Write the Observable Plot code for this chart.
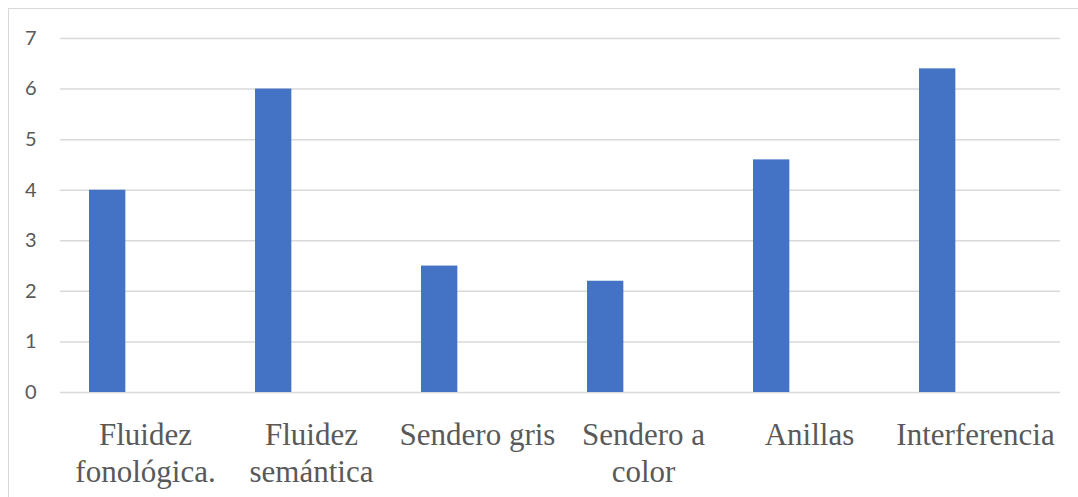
<!DOCTYPE html>
<html>
<head>
<meta charset="utf-8">
<script src="https://cdn.jsdelivr.net/npm/d3@7"></script>
<script src="https://cdn.jsdelivr.net/npm/@observablehq/plot@0.6"></script>
<style>
  html, body { margin: 0; padding: 0; background: #fff; }
  #wrap { position: relative; width: 1078px; height: 497px; overflow: hidden; }
  #frame { position: absolute; left: 8px; top: 8px; right: -10px; bottom: -10px;
           border-top: 1.5px solid #d9d9d9; border-left: 1.5px solid #d9d9d9; pointer-events: none; }
  #chart { position: absolute; left: 0; top: 0; }
</style>
</head>
<body>
<div id="wrap"><div id="chart"></div><div id="frame"></div></div>
<script>
const categories = ["Fluidez fonológica.", "Fluidez semántica", "Sendero gris", "Sendero a color", "Anillas", "Interferencia"];
const values = [4.0, 6.0, 2.5, 2.2, 4.6, 6.4];
const tickLabels = ["Fluidez\nfonológica.", "Fluidez\nsemántica", "Sendero gris", "Sendero a\ncolor", "Anillas", "Interferencia"];
const yTicks = [0, 1, 2, 3, 4, 5, 6, 7];

const data = categories.map((c, i) => ({category: c, value: values[i]}));
const labelOf = new Map(categories.map((c, i) => [c, tickLabels[i]]));

const bandWidth = (1078 - 60 - 18) / categories.length;

const chart = Plot.plot({
  width: 1078,
  height: 497,
  marginLeft: 60,
  marginRight: 18,
  marginTop: 38,
  marginBottom: 105,
  style: {background: "transparent", overflow: "visible"},
  x: {type: "band", domain: categories, padding: 0, label: null},
  y: {domain: [0, 7], label: null},
  marks: [
    Plot.gridY(yTicks, {stroke: "#d9d9d9", strokeOpacity: 1, strokeWidth: 1.5}),
    Plot.barY(data, {x: "category", y: "value", fill: "#4472C4",
      insetLeft: 27, insetRight: bandWidth - 27 - 37}),
    Plot.axisY({ticks: yTicks, tickFormat: "d", tickSize: 0, tickPadding: 24, label: null,
      fontSize: 20, fontFamily: "Lato, 'Open Sans', sans-serif", fill: "#595959"}),
    Plot.axisX({tickSize: 0, tickPadding: 26, label: null,
      tickFormat: (d) => labelOf.get(d),
      fontSize: 31, fontFamily: "'Liberation Serif', 'Times New Roman', serif",
      fill: "#595959", lineHeight: 1.19})
  ]
});
document.getElementById("chart").appendChild(chart);
</script>
</body>
</html>
